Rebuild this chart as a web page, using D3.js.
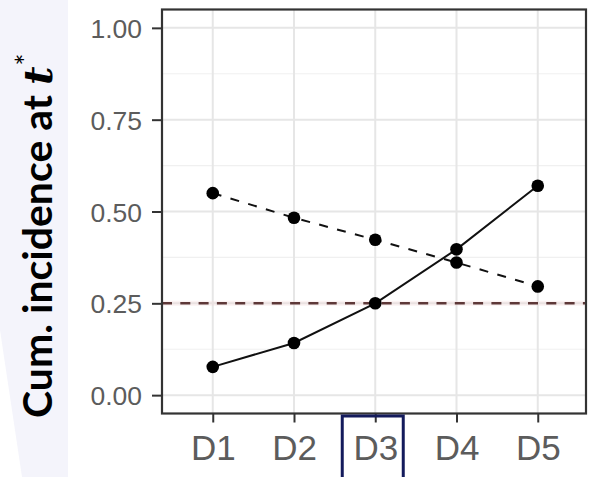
<!DOCTYPE html>
<html>
<head>
<meta charset="utf-8">
<script src="https://cdn.jsdelivr.net/npm/d3@7"></script>
<style>
  html, body { margin: 0; padding: 0; background: #ffffff; }
  svg { display: block; }
</style>
</head>
<body>
<svg id="chart" width="590" height="477"></svg>
<script>
// Cumulative incidence at t* for five designs, two series plus a 0.25 reference
const categories = ["D1", "D2", "D3", "D4", "D5"];
const solidSeries = [0.077, 0.142, 0.25, 0.397, 0.570];
const dashedSeries = [0.550, 0.483, 0.423, 0.361, 0.296];
const referenceLevel = 0.25;
const yTicks = [0, 0.25, 0.5, 0.75, 1];
const yTickLabels = ["0.00", "0.25", "0.50", "0.75", "1.00"];
const yMinor = [0.125, 0.375, 0.625, 0.875];
const highlighted = "D3";

const W = 590, H = 477;
const panel = { left: 162, right: 586, top: 9.5, bottom: 413.5 };

const svg = d3.select("#chart");

// soft slide band behind the axis title
svg.append("path")
  .attr("d", "M0,0 L68,0 L68,477 L22,477 L0,330 Z")
  .attr("fill", "#f4f4fb");

const x = d3.scalePoint()
  .domain(categories)
  .range([164, 586.5])
  .padding(0.6);

const y = d3.scaleLinear()
  .domain([-0.05, 1.05])
  .range([panel.bottom, panel.top]);

const g = svg.append("g");

// panel background
g.append("rect")
  .attr("x", panel.left).attr("y", panel.top)
  .attr("width", panel.right - panel.left)
  .attr("height", panel.bottom - panel.top)
  .attr("fill", "#ffffff");

// grid lines
g.selectAll("line.minor").data(yMinor).enter().append("line")
  .attr("x1", panel.left).attr("x2", panel.right)
  .attr("y1", d => y(d)).attr("y2", d => y(d))
  .attr("stroke", "#f0f0f0").attr("stroke-width", 1.2);

g.selectAll("line.majory").data(yTicks).enter().append("line")
  .attr("x1", panel.left).attr("x2", panel.right)
  .attr("y1", d => y(d)).attr("y2", d => y(d))
  .attr("stroke", "#e6e6e6").attr("stroke-width", 2);

g.selectAll("line.majorx").data(categories).enter().append("line")
  .attr("x1", d => x(d)).attr("x2", d => x(d))
  .attr("y1", panel.top).attr("y2", panel.bottom)
  .attr("stroke", "#e6e6e6").attr("stroke-width", 2);

// reference level
g.append("line")
  .attr("x1", panel.left).attr("x2", panel.right)
  .attr("y1", y(referenceLevel)).attr("y2", y(referenceLevel))
  .attr("stroke", "#f4d6d6").attr("stroke-width", 5).attr("opacity", 0.3);
g.append("line")
  .attr("x1", panel.left).attr("x2", panel.right)
  .attr("y1", y(referenceLevel)).attr("y2", y(referenceLevel))
  .attr("stroke", "#5e3838").attr("stroke-width", 2.4)
  .attr("stroke-dasharray", "10,8.3");

// series lines
const line = d3.line()
  .x((d, i) => x(categories[i]))
  .y(d => y(d));

g.append("path")
  .datum(solidSeries)
  .attr("d", line)
  .attr("fill", "none")
  .attr("stroke", "#111")
  .attr("stroke-width", 2);

g.append("path")
  .datum(dashedSeries)
  .attr("d", line)
  .attr("fill", "none")
  .attr("stroke", "#111")
  .attr("stroke-width", 2)
  .attr("stroke-dasharray", "9,9.5");

// points
[solidSeries, dashedSeries].forEach(series => {
  g.selectAll(null).data(series).enter().append("circle")
    .attr("cx", (d, i) => x(categories[i]))
    .attr("cy", d => y(d))
    .attr("r", 6.3)
    .attr("fill", "#000");
});

// panel border
g.append("rect")
  .attr("x", panel.left).attr("y", panel.top)
  .attr("width", panel.right - panel.left)
  .attr("height", panel.bottom - panel.top)
  .attr("fill", "none")
  .attr("stroke", "#333")
  .attr("stroke-width", 2.2);

// y axis
const yAxis = d3.axisLeft(y)
  .tickValues(yTicks)
  .tickFormat((d, i) => yTickLabels[i])
  .tickSize(10)
  .tickPadding(6);

const yAxisG = svg.append("g")
  .attr("transform", `translate(${panel.left},0)`)
  .call(yAxis);
yAxisG.select(".domain").remove();
yAxisG.selectAll(".tick line").attr("stroke", "#333").attr("stroke-width", 2);
yAxisG.selectAll(".tick text")
  .attr("fill", "#5c5c5c")
  .style("font-family", "Liberation Sans, Arial, sans-serif")
  .style("font-size", "25px")
  .attr("transform", "scale(1.06,1)")
  .attr("x", -20 / 1.06)
  .attr("dy", "0.38em");

// x axis
const xAxis = d3.axisBottom(x)
  .tickSize(9)
  .tickPadding(6);

const xAxisG = svg.append("g")
  .attr("transform", `translate(0,${panel.bottom})`)
  .call(xAxis);
xAxisG.select(".domain").remove();
xAxisG.selectAll(".tick line").attr("stroke", "#333").attr("stroke-width", 2);
xAxisG.selectAll(".tick text")
  .attr("fill", "#5c5c5c")
  .style("font-family", "Liberation Sans, Arial, sans-serif")
  .style("font-size", "35px")
  .attr("y", 22)
  .attr("dy", "0.71em");

// frame around the highlighted design label
const hx = x(highlighted);
svg.append("rect")
  .attr("x", hx - 33).attr("y", 416)
  .attr("width", 61).attr("height", 70)
  .attr("fill", "none")
  .attr("stroke", "#141b5c")
  .attr("stroke-width", 3);

// y axis title
const title = svg.append("text")
  .attr("transform", "translate(52,418) rotate(-90)")
  .attr("fill", "#000")
  .style("font-family", "Lato, 'Open Sans', sans-serif")
  .style("font-weight", "bold")
  .style("font-size", "41px");
title.append("tspan").text("Cum. incidence at ");
title.append("tspan")
  .style("font-family", "'DejaVu Serif', 'Liberation Serif', serif")
  .style("font-style", "italic")
  .style("font-weight", "bold")
  .style("font-size", "40px")
  .text("t");
title.append("tspan")
  .attr("dy", "-0.55em")
  .attr("dx", "1")
  .style("font-size", "28px")
  .style("font-weight", "normal")
  .text("*");
</script>
</body>
</html>
